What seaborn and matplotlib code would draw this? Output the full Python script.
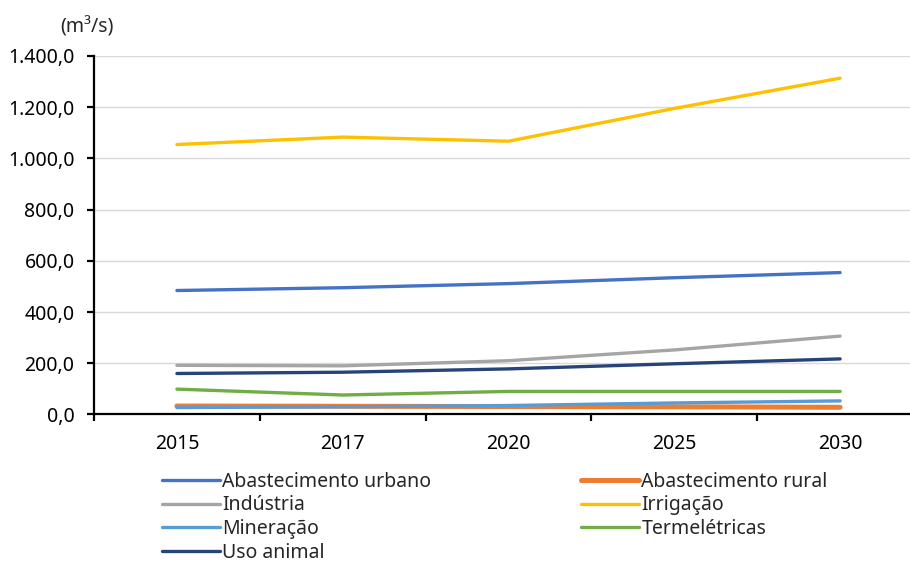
import matplotlib
matplotlib.use("Agg")
import matplotlib.pyplot as plt
from matplotlib.ticker import FuncFormatter, FixedLocator
import pandas as pd
import seaborn as sns

anos = ["2015", "2017", "2020", "2025", "2030"]
urbano = [484, 495, 511, 534, 554]
rural = [33, 32, 31, 30, 28]
industria = [192, 190, 210, 252, 306]
irrigacao = [1054, 1083, 1067, 1195, 1313]
mineracao = [27, 30, 35, 45, 53]
termeletricas = [99, 76, 90, 90, 90]
uso_animal = [160, 165, 178, 198, 217]

series = [
    ("Abastecimento urbano", urbano, "#4472C4", 2.4),
    ("Abastecimento rural", rural, "#ED7D31", 3.6),
    ("Indústria", industria, "#A5A5A5", 2.4),
    ("Irrigação", irrigacao, "#FFC000", 2.4),
    ("Mineração", mineracao, "#5B9BD5", 2.4),
    ("Termelétricas", termeletricas, "#70AD47", 2.4),
    ("Uso animal", uso_animal, "#264478", 2.4),
]

sns.set_theme(style="white")
plt.rcParams["font.family"] = ["Noto Sans", "DejaVu Sans"]

fig = plt.figure(figsize=(9.1, 5.62), dpi=100)
ax = fig.add_axes([0.1033, 0.2625, 0.911, 0.638])

lines = {}
for name, vals, color, lw in series:
    df = pd.DataFrame({"ano": anos, "v": vals})
    sns.lineplot(data=df, x="ano", y="v", color=color, linewidth=lw, ax=ax,
                 label=name, legend=False, solid_capstyle="round")
    lines[name] = ax.lines[-1]

ax.set_xlim(-0.5, 4.5)
ax.set_ylim(0, 1400)
ax.set_xlabel("")
ax.set_ylabel("")
ax.set_yticks(range(0, 1401, 200))
ax.yaxis.set_major_formatter(FuncFormatter(
    lambda v, p: f"{v:,.1f}".replace(",", "X").replace(".", ",").replace("X", ".")))
ax.grid(axis="y", color="#D9D9D9", linewidth=1)
ax.set_axisbelow(True)
for s in ["top", "right"]:
    ax.spines[s].set_visible(False)
for s in ["left", "bottom"]:
    ax.spines[s].set_color("black")
    ax.spines[s].set_linewidth(1.6)
    ax.spines[s].set_zorder(5)

ax.xaxis.set_minor_locator(FixedLocator([-0.5, 0.5, 1.5, 2.5, 3.5, 4.5]))
ax.tick_params(axis="x", which="major", length=0, pad=14, labelsize=14, colors="black")
ax.tick_params(axis="x", which="minor", length=5, width=1.6, direction="out", color="black", bottom=True)
ax.tick_params(axis="y", which="major", length=5, width=1.6, direction="out", pad=9,
               labelsize=14, colors="black", left=True)

fig.text(0.095, 0.952, "(m³/s)", fontsize=14, ha="center", va="center")

order = ["Abastecimento urbano", "Indústria", "Mineração", "Uso animal",
         "Abastecimento rural", "Irrigação", "Termelétricas"]
fig.legend([lines[n] for n in order], order, ncol=2, loc="upper left",
           bbox_to_anchor=(0.178, 0.161), frameon=False, fontsize=14,
           handlelength=3.0, handletextpad=0.1, labelspacing=0.2,
           columnspacing=7.7, borderaxespad=0, borderpad=0)

fig.savefig("out.png", dpi=100)
